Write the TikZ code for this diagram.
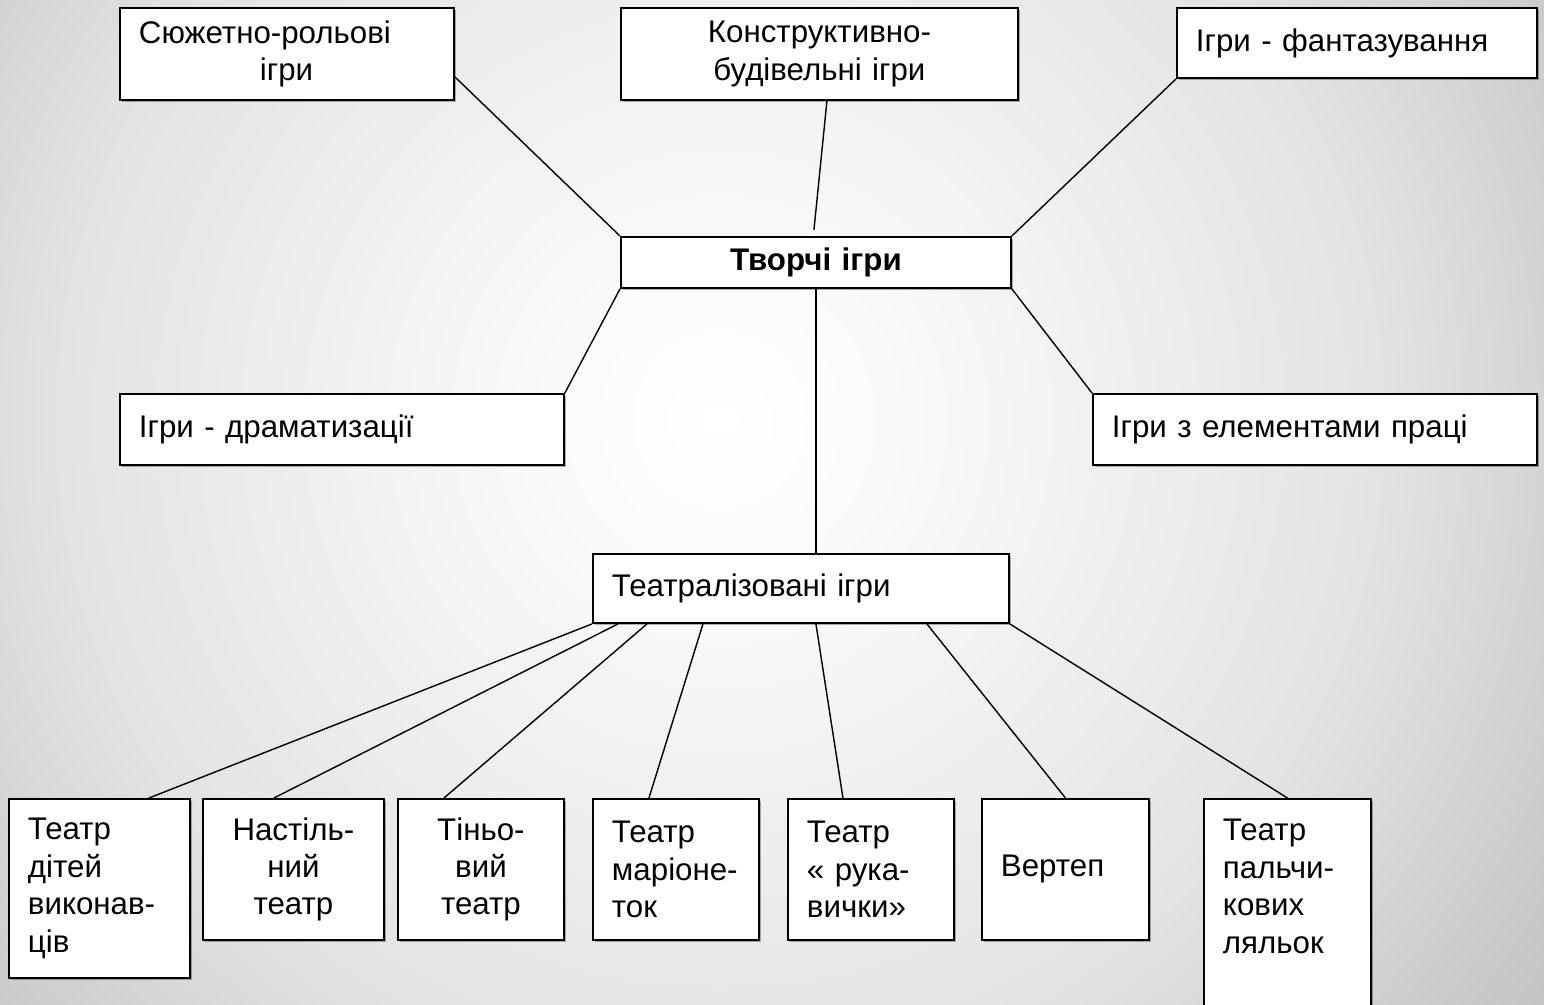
\documentclass[tikz,border=0pt]{standalone}
\usepackage{fontspec}
\setmainfont{Liberation Sans}
\usetikzlibrary{shadows}

\pgfdeclareradialshading{slidebg}{\pgfpoint{0bp}{0bp}}{%
  color(0bp)=(white); color(4bp)=(white!98!black);
  color(15bp)=(white!89!black); color(22bp)=(white!78!black);
  color(27bp)=(white!71!black); color(33bp)=(white!65!black);
  color(50bp)=(white!60!black)}

\begin{document}
\begin{tikzpicture}[x=0.02cm,y=-0.02cm,
  box/.style={draw,line width=1.1pt,fill=white,anchor=north west,align=left,
    inner xsep=0.38cm,font=\fontsize{17.8}{21.3}\selectfont,
    drop shadow={shadow xshift=0.04cm,shadow yshift=-0.04cm,fill=black,opacity=0.3}},
  link/.style={line width=0.8pt}]
\useasboundingbox (0,0) rectangle (1544,1004);
\begin{scope}
\clip (0,0) rectangle (1544,1004);
\shade[shading=slidebg] (-380,-680) rectangle (1820,1520);

\node[box,text width=5.92cm,minimum height=1.84cm] (rolevi) at (119,7)
  {Сюжетно-рольові\\\hspace*{2.42cm}ігри};
\node[box,align=center,text width=7.18cm,minimum height=1.84cm] (konstr) at (620,7)
  {Конструктивно-\\будівельні ігри};
\node[box,text width=6.44cm,minimum height=1.4cm] (fantaz) at (1176,7) {Ігри - фантазування};
\node[box,align=center,text width=7.04cm,minimum height=1.02cm,
  font=\fontsize{17.8}{21.3}\selectfont\bfseries] (tvorchi) at (620,236) {Творчі ігри};
\node[box,text width=8.12cm,minimum height=1.42cm] (dramat) at (119,393) {Ігри - драматизації};
\node[box,text width=8.12cm,minimum height=1.42cm] (pratsia) at (1092,393) {Ігри з елементами праці};
\node[box,text width=7.56cm,minimum height=1.38cm] (teatr) at (592,553) {Театралізовані ігри};

\node[box,text width=2.86cm,minimum height=3.58cm] (ditei) at (8,798) {Театр\\дітей\\виконав-\\ців};
\node[box,align=center,text width=2.86cm,minimum height=2.82cm] (nastil) at (202,798) {Настіль-\\ний\\театр};
\node[box,align=center,text width=2.56cm,minimum height=2.82cm] (tinovyi) at (397,798) {Тіньо-\\вий\\театр};
\node[box,text width=2.56cm,minimum height=2.82cm] (marion) at (592,798) {Театр\\маріоне-\\ток};
\node[box,text width=2.56cm,minimum height=2.82cm] (rukavy) at (787,798) {Театр\\« рука-\\вички»};
\node[box,text width=2.58cm,minimum height=2.82cm] (vertep) at (981,798) {Вертеп};
\node[box,text width=2.58cm,text height=0.72cm,text depth=3.3cm] (palchyk) at (1203,798)
  {Театр\\пальчи-\\кових\\ляльок};

\draw[link] ([yshift=0.48cm]rolevi.south east) -- (tvorchi.north west);
\draw[link] ([xshift=0.15cm]konstr.south) -- ([xshift=-0.04cm,yshift=0.12cm]tvorchi.north);
\draw[link] (fantaz.south west) -- (tvorchi.north east);
\draw[link] (dramat.north east) -- (tvorchi.south west);
\draw[link] (pratsia.north west) -- (tvorchi.south east);
\draw[link] (tvorchi.south) -- (tvorchi.south |- teatr.north);

\draw[link] (teatr.south west) -- ([xshift=0.99cm]ditei.north);
\draw[link] ([xshift=0.52cm]teatr.south west) -- ([xshift=-0.39cm]nastil.north);
\draw[link] ([xshift=1.1cm]teatr.south west) -- ([xshift=-0.74cm]tinovyi.north);
\draw[link] ([xshift=2.22cm]teatr.south west) -- ([xshift=-0.54cm]marion.north);
\draw[link] ([xshift=0.3cm]teatr.south) -- ([xshift=-0.56cm]rukavy.north);
\draw[link] ([xshift=2.52cm]teatr.south) -- (vertep.north);
\draw[link] (teatr.south east) -- (palchyk.north);
\end{scope}
\end{tikzpicture}
\end{document}
